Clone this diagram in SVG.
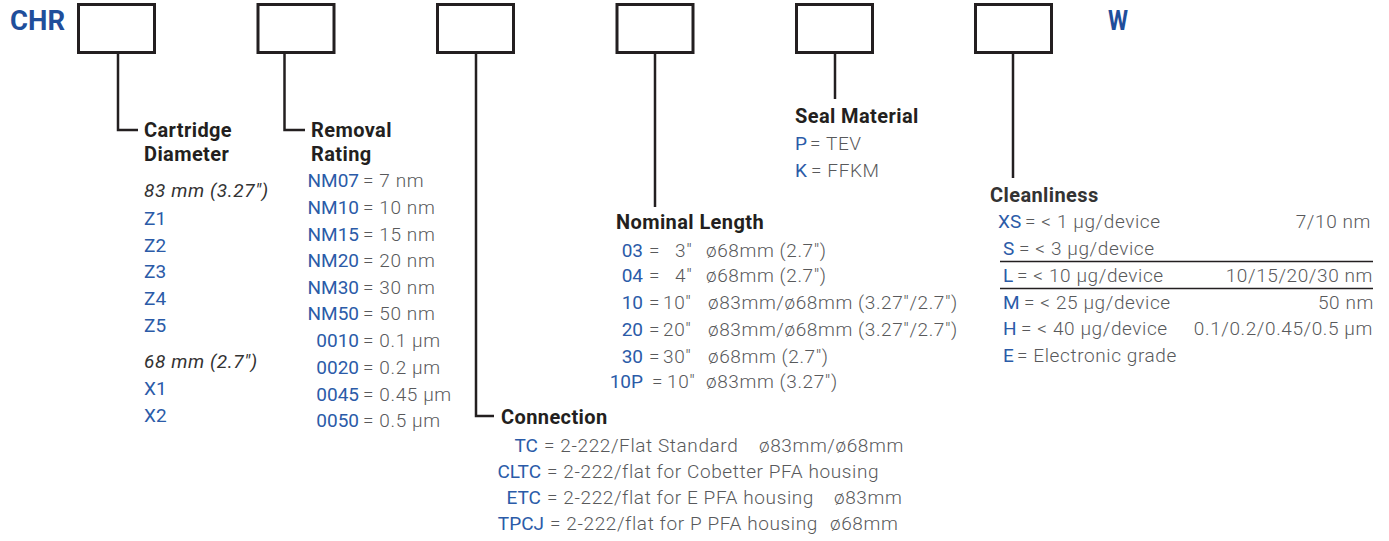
<svg xmlns="http://www.w3.org/2000/svg" width="1389" height="541" viewBox="0 0 1389 541">
<style>
text{font-family:Roboto,"Liberation Sans",sans-serif;font-size:19px}
.logo{font-weight:700;font-size:28px;fill:#1f4e9b}
.h{font-weight:700;font-size:20px;letter-spacing:0.4px;fill:#231f20}
.c{fill:#2b5ba8;font-weight:400;font-size:19px}
.v{fill:#58595b;font-weight:300;letter-spacing:0.6px}
.i{font-style:italic;fill:#333;font-weight:400;letter-spacing:0.6px}
.box{fill:#fff;stroke:#231f20;stroke-width:3}
.ln{fill:none;stroke:#231f20;stroke-width:2.5}
.e{text-anchor:end}
</style>
<g id="prefix"><text class="logo" x="10" y="30" textLength="55" lengthAdjust="spacingAndGlyphs">CHR</text></g>
<g id="suffix"><text class="logo" x="1108" y="30" textLength="20" lengthAdjust="spacingAndGlyphs">W</text></g>
<g id="box1"><rect class="box" x="78.5" y="4.5" width="76" height="48"/></g>
<g id="box2"><rect class="box" x="258" y="4.5" width="76" height="48"/></g>
<g id="box3"><rect class="box" x="437.5" y="4.5" width="76" height="48"/></g>
<g id="box4"><rect class="box" x="617" y="4.5" width="76" height="48"/></g>
<g id="box5"><rect class="box" x="796.5" y="4.5" width="76" height="48"/></g>
<g id="box6"><rect class="box" x="975.5" y="4.5" width="76" height="48"/></g>
<g id="connectors">
<path class="ln" d="M118 54V130H138"/>
<path class="ln" d="M284.5 54V130H305"/>
<path class="ln" d="M476 54V416H494"/>
<path class="ln" d="M655 54V207"/>
<path class="ln" d="M835 54V99"/>
<path class="ln" d="M1013 54V178"/>
</g>
<g id="diameter">
<text class="h" x="144" y="137">Cartridge</text>
<text class="h" x="144" y="161">Diameter</text>
<text class="i" x="144" y="197">83 mm (3.27")</text>
<text class="c" x="144" y="225">Z1</text>
<text class="c" x="144" y="252">Z2</text>
<text class="c" x="144" y="278">Z3</text>
<text class="c" x="144" y="305">Z4</text>
<text class="c" x="144" y="332">Z5</text>
<text class="i" x="144" y="368">68 mm (2.7")</text>
<text class="c" x="144" y="395">X1</text>
<text class="c" x="144" y="422">X2</text>
</g>
<g id="rating">
<text class="h" x="311" y="137">Removal</text>
<text class="h" x="311" y="161">Rating</text>
<text class="c e" x="359" y="187">NM07</text>
<text class="c e" x="359" y="214">NM10</text>
<text class="c e" x="359" y="241">NM15</text>
<text class="c e" x="359" y="267">NM20</text>
<text class="c e" x="359" y="294">NM30</text>
<text class="c e" x="359" y="320">NM50</text>
<text class="c e" x="359" y="347">0010</text>
<text class="c e" x="359" y="374">0020</text>
<text class="c e" x="359" y="401">0045</text>
<text class="c e" x="359" y="427">0050</text>
<text class="v" x="363" y="187">= 7 nm</text>
<text class="v" x="363" y="214">= 10 nm</text>
<text class="v" x="363" y="241">= 15 nm</text>
<text class="v" x="363" y="267">= 20 nm</text>
<text class="v" x="363" y="294">= 30 nm</text>
<text class="v" x="363" y="320">= 50 nm</text>
<text class="v" x="363" y="347">= 0.1 µm</text>
<text class="v" x="363" y="374">= 0.2 µm</text>
<text class="v" x="363" y="401">= 0.45 µm</text>
<text class="v" x="363" y="427">= 0.5 µm</text>
</g>
<g id="connection">
<text class="h" x="501" y="424">Connection</text>
<text class="c e" x="538" y="452">TC</text>
<text class="v" x="544" y="452">= 2-222/Flat Standard</text>
<text class="v" x="759" y="452">ø83mm/ø68mm</text>
<text class="c e" x="541" y="478">CLTC</text>
<text class="v" x="547" y="478">= 2-222/flat for Cobetter PFA housing</text>
<text class="c e" x="541" y="504">ETC</text>
<text class="v" x="547" y="504">= 2-222/flat for E PFA housing</text>
<text class="v" x="834" y="504">ø83mm</text>
<text class="c e" x="544" y="530">TPCJ</text>
<text class="v" x="550" y="530">= 2-222/flat for P PFA housing</text>
<text class="v" x="830" y="530">ø68mm</text>
</g>
<g id="length">
<text class="h" x="616" y="229">Nominal Length</text>
<text class="c e" x="643" y="257">03</text>
<text class="c e" x="643" y="282">04</text>
<text class="c e" x="643" y="309">10</text>
<text class="c e" x="643" y="336">20</text>
<text class="c e" x="643" y="363">30</text>
<text class="c e" x="643" y="388">10P</text>
<text class="v" x="649" y="257">=</text>
<text class="v" x="649" y="282">=</text>
<text class="v" x="649" y="309">=</text>
<text class="v" x="649" y="336">=</text>
<text class="v" x="649" y="363">=</text>
<text class="v" x="652" y="388">=</text>
<text class="v" x="675" y="257">3"</text>
<text class="v" x="675" y="282">4"</text>
<text class="v" x="663" y="309">10"</text>
<text class="v" x="663" y="336">20"</text>
<text class="v" x="663" y="363">30"</text>
<text class="v" x="667" y="388">10"</text>
<text class="v" x="706" y="257">ø68mm (2.7")</text>
<text class="v" x="706" y="282">ø68mm (2.7")</text>
<text class="v" x="708" y="309">ø83mm/ø68mm (3.27"/2.7")</text>
<text class="v" x="708" y="336">ø83mm/ø68mm (3.27"/2.7")</text>
<text class="v" x="708" y="363">ø68mm (2.7")</text>
<text class="v" x="706" y="388">ø83mm (3.27")</text>
</g>
<g id="seal">
<text class="h" x="795" y="123">Seal Material</text>
<text class="c" x="795" y="150">P</text>
<text class="v" x="810" y="150">= TEV</text>
<text class="c" x="795" y="177">K</text>
<text class="v" x="811" y="177">= FFKM</text>
</g>
<g id="cleanliness">
<text class="h" x="990" y="202" style="fill:#333">Cleanliness</text>
<text class="c" x="998" y="228">XS</text>
<text class="v" x="1025" y="228">= &lt; 1 µg/device</text>
<text class="c" x="1003" y="255">S</text>
<text class="v" x="1019" y="255">= &lt; 3 µg/device</text>
<text class="c" x="1003" y="282">L</text>
<text class="v" x="1017" y="282">= &lt; 10 µg/device</text>
<text class="c" x="1003" y="309">M</text>
<text class="v" x="1024" y="309">= &lt; 25 µg/device</text>
<text class="c" x="1003" y="335">H</text>
<text class="v" x="1021" y="335">= &lt; 40 µg/device</text>
<text class="c" x="1003" y="362">E</text>
<text class="v" x="1017" y="362">= Electronic grade</text>
<text class="v e" x="1371" y="228">7/10 nm</text>
<text class="v e" x="1373" y="282">10/15/20/30 nm</text>
<text class="v e" x="1374" y="309">50 nm</text>
<text class="v e" x="1373" y="335">0.1/0.2/0.45/0.5 µm</text>
<path d="M1000 261.5H1373M1000 288.5H1373" stroke="#231f20" stroke-width="1.3" fill="none"/>
</g>
</svg>
